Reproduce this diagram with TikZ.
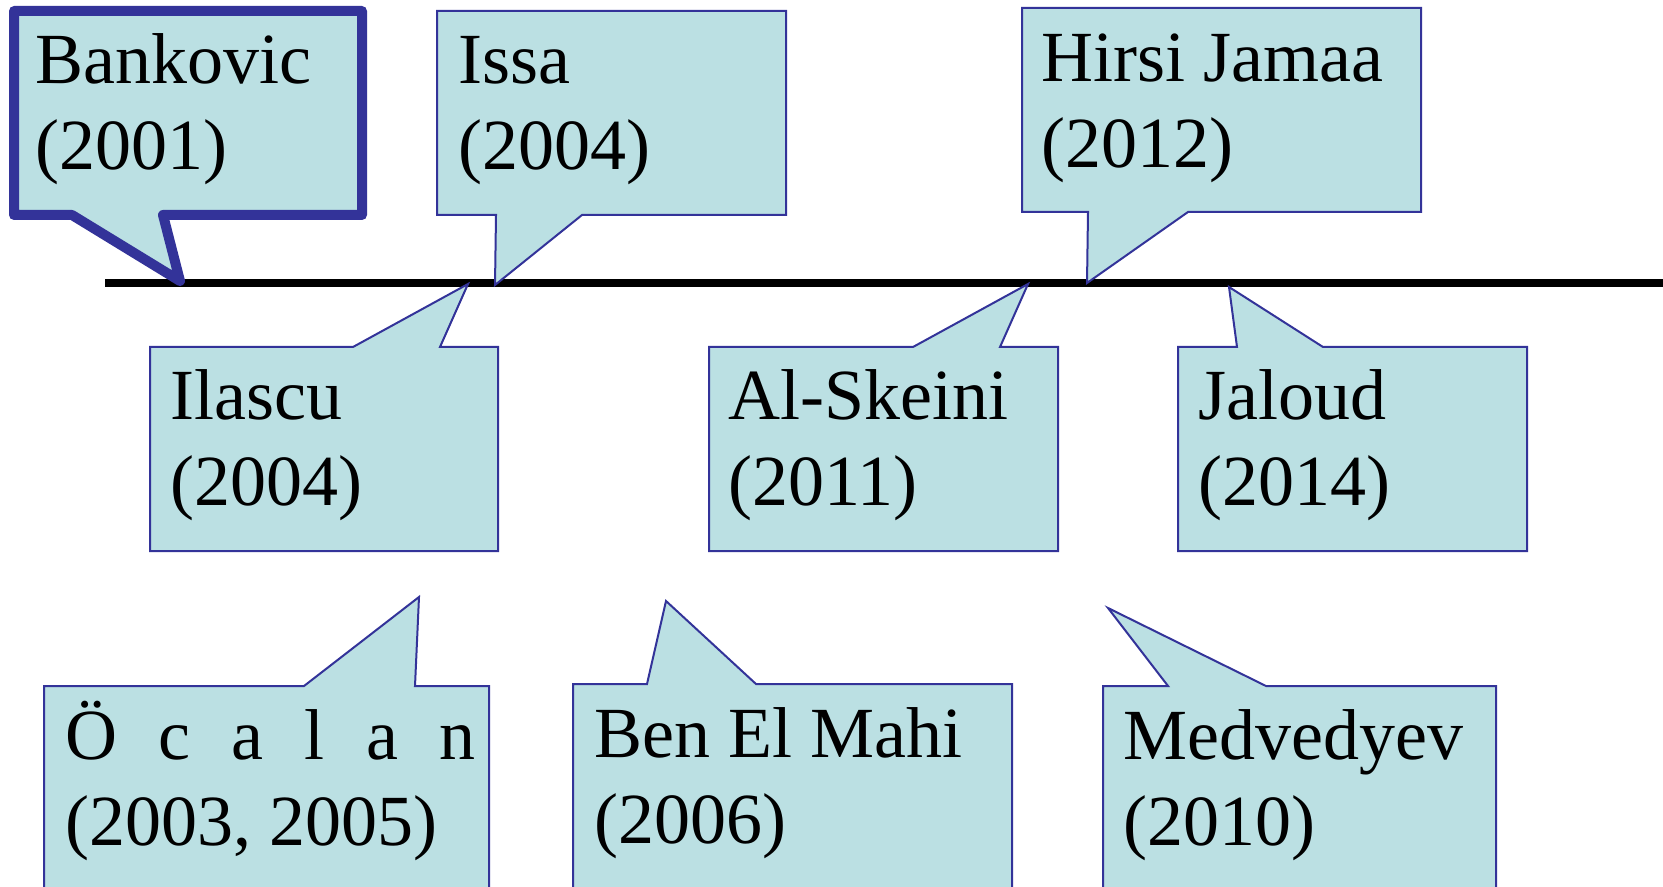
\documentclass[tikz,border=0pt]{standalone}
\usepackage{fontspec}
\setmainfont{Liberation Serif}
\definecolor{cfill}{HTML}{BBE0E3}
\definecolor{cline}{HTML}{333399}
\begin{document}
\begin{tikzpicture}[x=0.5pt,y=-0.5pt,
  callout/.style={fill=cfill,draw=cline,line width=1pt,line join=miter},
  thickcallout/.style={fill=cfill,draw=cline,line width=5pt,line join=round},
  lbl/.style={anchor=base west,inner sep=0pt,align=left,font=\fontsize{36}{43}\selectfont}]
\useasboundingbox (0,0) rectangle (1663,887);
% timeline
\coordinate (L0) at (105,283);
\coordinate (L1) at (1663,283);
\draw[line width=4pt] (L0) -- (L1);
% Bankovic
\coordinate (tBank) at (180,281);
\draw[thickcallout] (14,11) -- (362,11) -- (362,215) -- (163,215) -- (tBank) -- (72,215) -- (14,215) -- cycle;
\node[lbl] (bank) at (35,170) {Bankovic\\(2001)};
% Issa
\coordinate (tIssa) at (495,285);
\draw[callout] (437,11) -- (786,11) -- (786,215) -- (582,215) -- (tIssa) -- (496,215) -- (437,215) -- cycle;
\node[lbl] (issa) at (458,170) {Issa\\(2004)};
% Hirsi Jamaa
\coordinate (tHirsi) at (1087,283);
\draw[callout] (1022,8) -- (1421,8) -- (1421,212) -- (1188,212) -- (tHirsi) -- (1088,212) -- (1022,212) -- cycle;
\node[lbl] (hirsi) at (1041,168) {Hirsi Jamaa\\(2012)};
% Ilascu
\coordinate (tIlascu) at (468,284);
\draw[callout] (150,347) -- (353,347) -- (tIlascu) -- (440,347) -- (498,347) -- (498,551) -- (150,551) -- cycle;
\node[lbl] (ilascu) at (170,505) {Ilascu\\(2004)};
% Al-Skeini
\coordinate (tSkeini) at (1028,284);
\draw[callout] (709,347) -- (913,347) -- (tSkeini) -- (1000,347) -- (1058,347) -- (1058,551) -- (709,551) -- cycle;
\node[lbl] (skeini) at (728,505) {Al-Skeini\\(2011)};
% Jaloud
\coordinate (tJaloud) at (1229,287);
\draw[callout] (1178,347) -- (1237,347) -- (tJaloud) -- (1323,347) -- (1527,347) -- (1527,551) -- (1178,551) -- cycle;
\node[lbl] (jaloud) at (1198,505) {Jaloud\\(2014)};
% Ocalan
\coordinate (tOcalan) at (419,597);
\draw[callout] (44,686) -- (304,686) -- (tOcalan) -- (415,686) -- (489,686) -- (489,900) -- (44,900) -- cycle;
\node[lbl] (ocalan) at (65,845) {\makebox[205pt][l]{Ö\hfill c\hfill a\hfill l\hfill a\hfill n}\\(2003, 2005)};
% Ben El Mahi
\coordinate (tBen) at (666,601);
\draw[callout] (573,684) -- (647,684) -- (tBen) -- (756,684) -- (1012,684) -- (1012,900) -- (573,900) -- cycle;
\node[lbl] (ben) at (594,843) {Ben El Mahi\\(2006)};
% Medvedyev
\coordinate (tMedv) at (1108,608);
\draw[callout] (1103,686) -- (1168,686) -- (tMedv) -- (1266,686) -- (1496,686) -- (1496,900) -- (1103,900) -- cycle;
\node[lbl] (medv) at (1123,845) {Medvedyev\\(2010)};
\end{tikzpicture}
\end{document}
